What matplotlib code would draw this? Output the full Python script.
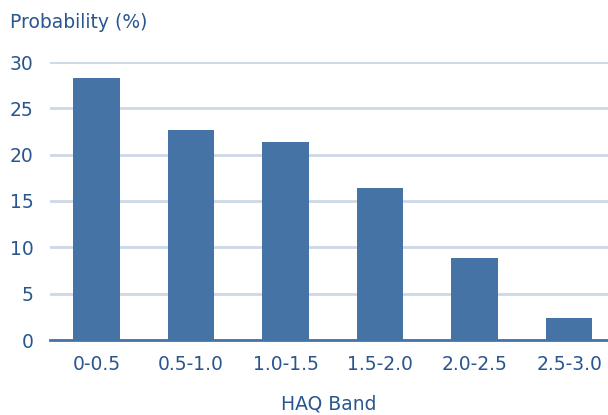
import matplotlib.pyplot as plt
import numpy as np

# HAQ band probability data
bands = ['0-0.5', '0.5-1.0', '1.0-1.5', '1.5-2.0', '2.0-2.5', '2.5-3.0']
probability = [28.3, 22.7, 21.4, 16.4, 8.9, 2.4]
yticks = [0, 5, 10, 15, 20, 25, 30]

bar_color = '#4573a5'
text_color = '#2a5690'
grid_color = '#ccd8e6'

plt.rcParams['font.family'] = ['DejaVu Sans']

fig = plt.figure(figsize=(6.08, 4.15), dpi=100)
ax = fig.add_axes([50/608, 75/415, 558/608, 278/415])

x = np.arange(len(bands))
ax.bar(x, probability, width=0.49, color=bar_color, zorder=3)

ax.set_ylim(0, 30)
ax.set_xlim(-0.49, 5.41)
ax.set_yticks(yticks)
ax.set_xticks(x)
ax.set_xticklabels(bands)

ax.yaxis.grid(True, color=grid_color, linewidth=2, zorder=0)
ax.set_axisbelow(True)
for side in ['top', 'right', 'left']:
    ax.spines[side].set_visible(False)
ax.spines['bottom'].set_color(bar_color)
ax.spines['bottom'].set_linewidth(2)
ax.spines['bottom'].set_zorder(4)

ax.tick_params(axis='both', length=0, labelsize=13.5, labelcolor=text_color)
ax.tick_params(axis='y', pad=12)
ax.tick_params(axis='x', pad=11)

fig.text(10/608, 1 - 28/415, 'Probability (%)', fontsize=13.5, color=text_color,
         ha='left', va='baseline')
fig.text(329/608, 1 - 409/415, 'HAQ Band', fontsize=13.5, color=text_color,
         ha='center', va='baseline')

fig.savefig('out.png', dpi=100)
